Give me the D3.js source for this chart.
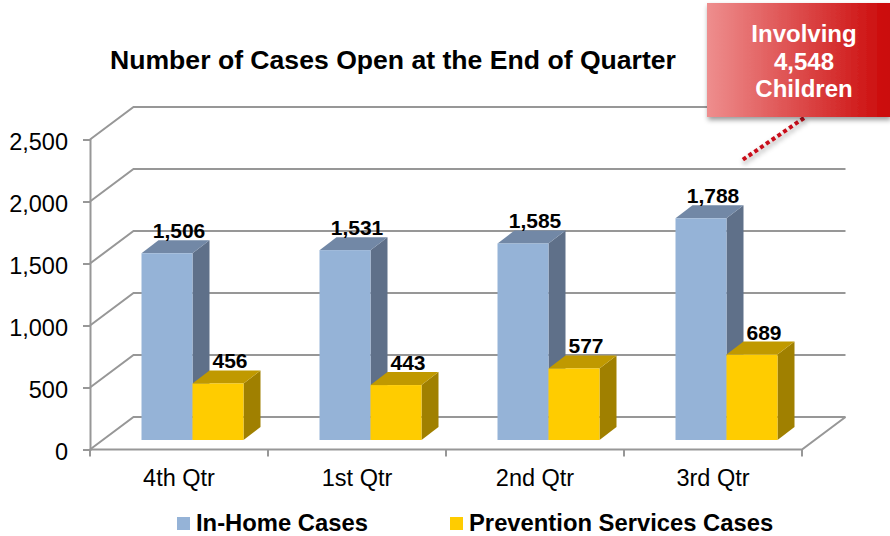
<!DOCTYPE html>
<html>
<head>
<meta charset="utf-8">
<script src="https://cdn.jsdelivr.net/npm/d3@7"></script>
<style>
    html, body { margin: 0; padding: 0; background: #fff; }
    svg { display: block; font-family: "Liberation Sans", Arial, sans-serif; }
    .tick text { fill: #000; }
</style>
</head>
<body>
<svg width="890" height="536"></svg>
<script>
const quarters = ['4th Qtr', '1st Qtr', '2nd Qtr', '3rd Qtr'];
const inHomeCases = [1506, 1531, 1585, 1788];
const preventionCases = [456, 443, 577, 689];
const yTicks = [0, 500, 1000, 1500, 2000, 2500];
const seriesNames = ['In-Home Cases', 'Prevention Services Cases'];
const calloutLines = ['Involving', '4,548', 'Children'];

const svg = d3.select('svg');
const gridColor = '#979797';

const y = d3.scaleLinear().domain([0, 2500]).range([449.5, 139.5]);
const x = d3.scaleBand().domain(quarters).range([90, 802]);
const barX = d3.scaleBand().domain(seriesNames).range([0, 102]);

// depth of the chart floor, and of one bar
const wallDx = 43.5, wallDy = -32.5;
const barDx = 17, barDy = -13;
const barShiftX = 51.5, barShiftY = -9.5;

const defs = svg.append('defs');
const grad = defs.append('linearGradient').attr('id', 'calloutFill');
grad.append('stop').attr('offset', '0%').attr('stop-color', '#ee8e8e');
grad.append('stop').attr('offset', '100%').attr('stop-color', '#cb0808');
const shadow = defs.append('filter').attr('id', 'shadow')
    .attr('x', '-10%').attr('y', '-10%').attr('width', '120%').attr('height', '125%');
shadow.append('feDropShadow').attr('dx', 1).attr('dy', 3).attr('stdDeviation', 2.5)
    .attr('flood-color', '#000').attr('flood-opacity', 0.4);

// walls and floor
const grid = svg.append('g').attr('fill', 'none').attr('stroke', gridColor).attr('stroke-width', 2);
grid.selectAll('path').data(yTicks).enter().append('path')
    .attr('d', d => `M90,${y(d)}L${90 + wallDx},${y(d) + wallDy}L${802 + wallDx},${y(d) + wallDy}`);
grid.append('path')
    .attr('d', `M90,${y(0)}L802,${y(0)}L${802 + wallDx},${y(0) + wallDy}`);

const yAxis = d3.axisLeft(y).tickValues(yTicks).tickSize(7).tickPadding(15).tickFormat(d3.format(','));
const yAxisG = svg.append('g').attr('transform', 'translate(90,0)').call(yAxis);
yAxisG.selectAll('line, path').attr('stroke', gridColor).attr('stroke-width', 2);
yAxisG.selectAll('text').attr('font-size', 23.5).attr('dy', '0.42em');

const xAxis = d3.axisBottom(x).tickSize(0).tickPadding(20);
const xAxisG = svg.append('g').attr('transform', `translate(0,${y(0)})`).call(xAxis);
xAxisG.select('.domain').remove();
xAxisG.selectAll('text').attr('font-size', 23.5);
xAxisG.selectAll('.edge').data(d3.range(quarters.length + 1)).enter().append('line')
    .attr('class', 'edge')
    .attr('x1', i => 90 + i * x.step()).attr('x2', i => 90 + i * x.step())
    .attr('y1', 0).attr('y2', 7)
    .attr('stroke', gridColor).attr('stroke-width', 2);

function drawSeries(name, values, front, top, side) {
    const bars = svg.append('g').selectAll('g').data(values).enter().append('g')
        .attr('transform', (d, i) => `translate(${x(quarters[i]) + barShiftX + barX(name)},0)`);
    const w = barX.bandwidth();
    const base = y(0) + barShiftY;
    const topY = d => base - (y(0) - y(d));
    bars.append('path').attr('fill', side)
        .attr('d', d => `M${w},${topY(d)}L${w + barDx},${topY(d) + barDy}L${w + barDx},${base + barDy}L${w},${base}Z`);
    bars.append('path').attr('fill', top)
        .attr('d', d => `M0,${topY(d)}L${barDx},${topY(d) + barDy}L${w + barDx},${topY(d) + barDy}L${w},${topY(d)}Z`);
    bars.append('rect').attr('fill', front)
        .attr('x', 0).attr('width', w)
        .attr('y', topY).attr('height', d => base - topY(d));
    return { bars, topY, w };
}

const blue = drawSeries(seriesNames[0], inHomeCases, '#95b3d7', '#7288a6', '#5f7089');
const gold = drawSeries(seriesNames[1], preventionCases, '#ffcc00', '#c09900', '#a08000');

// labels go on after both series so the gold bars never cover them
[blue, gold].forEach(s => {
    s.bars.append('text')
        .attr('x', s.w / 2 + 12)
        .attr('y', d => s.topY(d) - 15)
        .attr('text-anchor', 'middle')
        .attr('font-size', 21)
        .attr('font-weight', 'bold')
        .text(d => d3.format(',')(d));
});

svg.append('text')
    .attr('x', 393).attr('y', 69)
    .attr('text-anchor', 'middle')
    .attr('font-size', 26.6)
    .attr('font-weight', 'bold')
    .text('Number of Cases Open at the End of Quarter');

// legend
const legendX = [177, 450];
const legendColors = ['#95b3d7', '#ffcc00'];
const legend = svg.append('g').selectAll('g').data(seriesNames).enter().append('g')
    .attr('transform', (d, i) => `translate(${legendX[i]},517)`);
legend.append('rect').attr('width', 13).attr('height', 13).attr('fill', (d, i) => legendColors[i]);
legend.append('text')
    .attr('x', 19).attr('y', 14)
    .attr('font-size', 23.8)
    .attr('font-weight', 'bold')
    .text(d => d);

// callout
svg.append('line')
    .attr('x1', 804).attr('y1', 118).attr('x2', 741).attr('y2', 161)
    .attr('stroke', '#c8101a').attr('stroke-width', 4).attr('stroke-dasharray', '4 3')
    .attr('filter', 'url(#shadow)');
svg.append('rect')
    .attr('x', 707).attr('y', 3).attr('width', 183).attr('height', 114)
    .attr('fill', 'url(#calloutFill)')
    .attr('filter', 'url(#shadow)');
svg.append('g').selectAll('text').data(calloutLines).enter().append('text')
    .attr('x', 804)
    .attr('y', (d, i) => 42 + i * 27.5)
    .attr('text-anchor', 'middle')
    .attr('fill', '#fff')
    .attr('font-size', 24)
    .attr('font-weight', 'bold')
    .text(d => d);
</script>
</body>
</html>
